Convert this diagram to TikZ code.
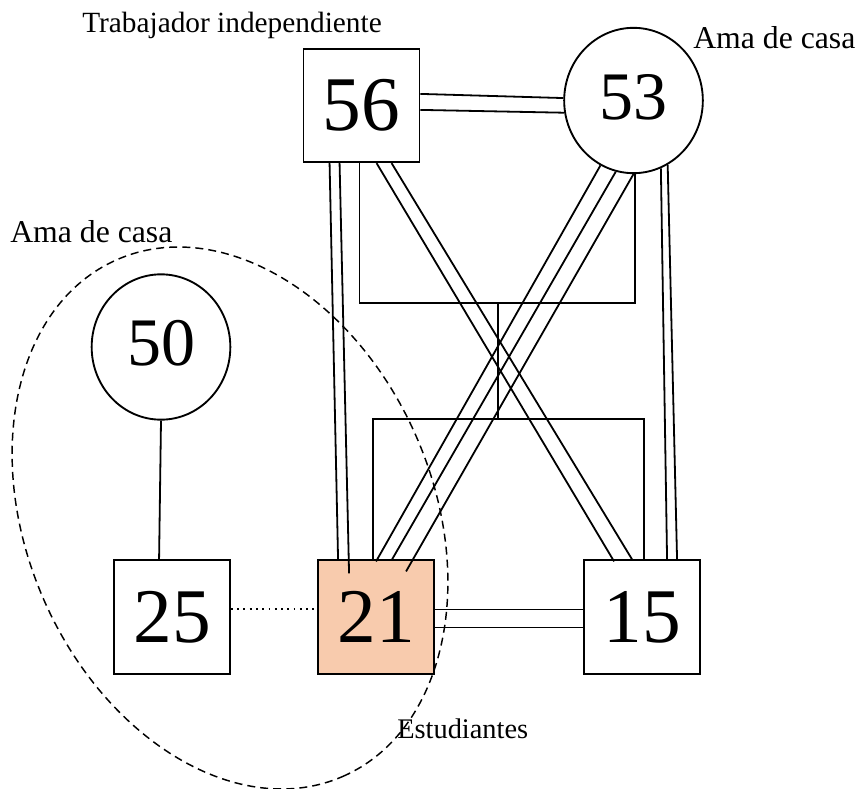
\documentclass[tikz,border=0pt]{standalone}
\usepackage{fontspec}
\setmainfont{Liberation Serif}
\usetikzlibrary{shapes.geometric,calc}
\definecolor{peach}{HTML}{F8CBAD}
\begin{document}
\begin{tikzpicture}[x=0.75pt,y=-0.75pt,
  conn/.style={line width=1.35pt},
  person/.style={draw,line width=1.4pt,minimum width=87pt,minimum height=85pt,inner sep=0pt,font=\fontsize{58}{60}\selectfont},
  female/.style={draw,ellipse,line width=1.4pt,minimum width=104pt,minimum height=109pt,inner sep=0pt,text depth=6pt,font=\fontsize{51}{53}\selectfont},
  lbl/.style={inner sep=0pt,anchor=base west}
]
\useasboundingbox (0,0) rectangle (861,789);
\node[draw,ellipse,dash pattern=on 6pt off 3.8pt,line width=1.1pt,minimum width=423pt,minimum height=305pt,inner sep=0pt,rotate=-66.4] (grp) at (230,518) {};
\node[person] (n56) at (361.5,105.5) {56};
\node[female] (n53) at (633.5,100.5) {53};
\node[female] (n50) at (161,347) {50};
\node[person] (n25) at (172,617) {25};
\node[person,fill=peach] (n21) at (376,617) {21};
\node[person] (n15) at (642,617) {15};

\node[lbl,font=\fontsize{22}{24}\selectfont] (t56) at (82,32) {Trabajador independiente};
\node[lbl,font=\fontsize{23.8}{26}\selectfont] (t53) at (693,48) {Ama de casa};
\node[lbl,font=\fontsize{23.8}{26}\selectfont] (t50) at (10,242) {Ama de casa};
\node[lbl,font=\fontsize{21.3}{23}\selectfont] (tgrp) at (397,738) {Estudiantes};

\coordinate (mar) at (498,303);
\coordinate (sib) at (498,419);

\draw[conn] ($(n56.north east)+(0,46)$) -- (n53.178);
\draw[conn] ($(n56.north east)+(0,62)$) -- (n53.190);
\draw[conn] ($(n56.south west)+(27,0)$) -- ($(n21.north west)+(21,0)$);
\draw[conn] ($(n56.south west)+(37,0)$) -- ($(n21.north west)+(32,14)$);
\draw[conn] ($(n56.south west)+(57,0)$) |- (mar) -| (n53.271);
\draw[conn] (mar) -- (sib);
\draw[conn] ($(n21.north west)+(56,0)$) |- (sib) -| ($(n15.north west)+(61,0)$);
\draw[conn] ($(n56.south west)+(74,0)$) -- ($(n15.north west)+(31,2)$);
\draw[conn] ($(n56.south west)+(89,0)$) -- ($(n15.north west)+(49,0)$);
\draw[conn] (n53.243) -- ($(n21.north west)+(59,2)$);
\draw[conn] (n53.256) -- ($(n21.north west)+(75,0)$);
\draw[conn] (n53.south) -- ($(n21.north west)+(89,12)$);
\draw[conn] (n53.292) -- ($(n15.north west)+(84,0)$);
\draw[conn] (n53.298) -- ($(n15.north west)+(94,0)$);
\draw[conn] ($(n21.north east)+(0,50)$) -- ($(n15.north west)+(0,50)$);
\draw[conn] ($(n21.north east)+(0,68)$) -- ($(n15.north west)+(0,68)$);
\draw[line width=1.5pt,dash pattern=on 1.4pt off 3.3pt] ($(n25.north east)+(0,50)$) -- ($(n21.north west)+(0,50)$);
\draw[conn] (n50.south) -- ($(n25.north west)+(46,0)$);
\end{tikzpicture}
\end{document}
